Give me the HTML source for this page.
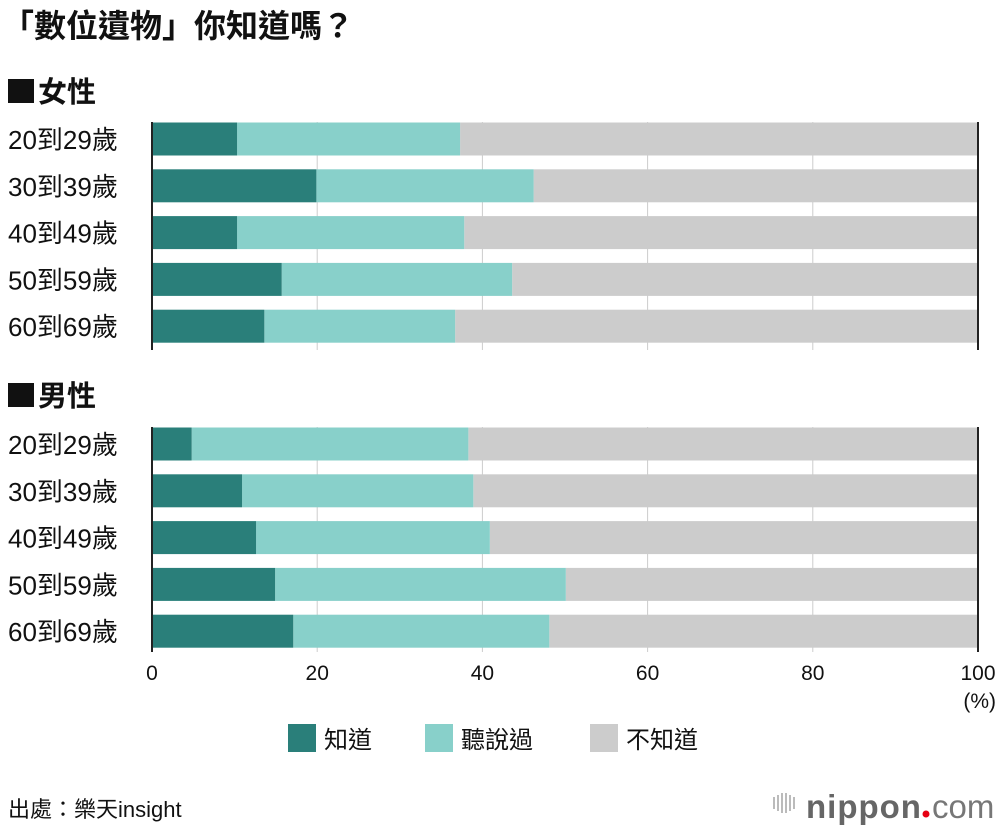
<!DOCTYPE html>
<html><head><meta charset="utf-8"><style>
body{margin:0;background:#fff;font-family:"Liberation Sans","Noto Sans CJK TC",sans-serif;}
svg text{font-family:"Liberation Sans","Noto Sans CJK TC",sans-serif;}
</style></head><body>
<svg id="c" width="1000" height="830" xmlns="http://www.w3.org/2000/svg">
<text x="2" y="37" font-size="32" font-weight="bold" fill="#111">「數位遺物」你知道嗎？</text>
<rect x="8" y="79" width="26" height="24" fill="#111"/>
<text x="38" y="102" font-size="29" font-weight="bold" fill="#111">女性</text>
<rect x="8" y="383" width="26" height="24" fill="#111"/>
<text x="38" y="406" font-size="29" font-weight="bold" fill="#111">男性</text>
<g id="grid"></g><g id="bars"></g><g id="axis"></g>
<rect x="288" y="724" width="28" height="28" fill="#2a7f7a"/>
<text x="324" y="748" font-size="24" fill="#111">知道</text>
<rect x="425" y="724" width="28" height="28" fill="#88d0ca"/>
<text x="461" y="748" font-size="24" fill="#111">聽說過</text>
<rect x="590" y="724" width="28" height="28" fill="#cccccc"/>
<text x="626" y="748" font-size="24" fill="#111">不知道</text>
<text x="8" y="817" font-size="22" fill="#111">出處：樂天insight</text>
<g>
<g fill="#bbb"><rect x="773" y="797" width="2" height="12"/><rect x="777" y="795" width="2" height="16"/><rect x="781" y="793" width="2" height="20"/><rect x="785" y="793" width="2" height="20"/><rect x="789" y="795" width="2" height="16"/><rect x="793" y="797" width="2" height="12"/></g>
<text x="806" y="818" font-size="33" fill="#666" font-weight="bold" letter-spacing="1">nippon</text>
<circle cx="926" cy="814" r="3.5" fill="#e60012"/>
<text x="932" y="818" font-size="33" fill="#777">com</text>
</g>
</svg>
<script>
const groups=["20到29歲","30到39歲","40到49歲","50到59歲","60到69歲"];
const femaleKnow=[10.3,19.9,10.3,15.7,13.6];
const femaleHeard=[27.0,26.3,27.5,27.9,23.1];
const maleKnow=[4.8,10.9,12.6,14.9,17.1];
const maleHeard=[33.5,28.0,28.3,35.2,31.0];
const ticks=[0,20,40,60,80,100];
const NS="http://www.w3.org/2000/svg";
const x=v=>152+v*8.26;
function mk(t,a,p){const e=document.createElementNS(NS,t);for(const k in a)e.setAttribute(k,a[k]);p.appendChild(e);return e;}
const G=document.getElementById('grid'),B=document.getElementById('bars'),A=document.getElementById('axis');
const panels=[{know:femaleKnow,heard:femaleHeard,y0:139,top:122,bot:350,n:'female'},{know:maleKnow,heard:maleHeard,y0:444,top:427,bot:652,n:'male'}];
panels.forEach(p=>{
  ticks.forEach(t=>{if(t>0){const l=mk('line',{x1:x(t),x2:x(t),y1:p.top,y2:p.bot,stroke:'#ccc','stroke-width':1},G);
  
  }});
  groups.forEach((g,i)=>{
    const cy=p.y0+i*46.8,h=33;
    const lab=mk('text',{x:8,y:cy+10,'font-size':26,fill:'#111'},B);lab.textContent=g;
    
    
    const k=p.know[i],hd=p.heard[i];
    const r3=mk('rect',{x:x(k+hd),y:cy-h/2,width:x(100)-x(k+hd),height:h,fill:'#cccccc'},B);
    
    
    const r2=mk('rect',{x:x(k),y:cy-h/2,width:x(k+hd)-x(k),height:h,fill:'#88d0ca'},B);
    
    
    const r1=mk('rect',{x:x(0),y:cy-h/2,width:x(k)-x(0),height:h,fill:'#2a7f7a'},B);
    
    
  });
  const al=mk('line',{x1:x(0),x2:x(0),y1:p.top,y2:p.bot,stroke:'#222','stroke-width':2},A);
  
  
  const ar=mk('line',{x1:x(100),x2:x(100),y1:p.top,y2:p.bot,stroke:'#222','stroke-width':2},A);
  
  
});
ticks.forEach(t=>{const e=mk('text',{x:x(t),y:680,'font-size':21,fill:'#111','text-anchor':'middle'},A);e.textContent=t;

});
const u=mk('text',{x:996,y:708,'font-size':21,fill:'#111','text-anchor':'end'},A);u.textContent='(%)';


</script>
</body></html>
